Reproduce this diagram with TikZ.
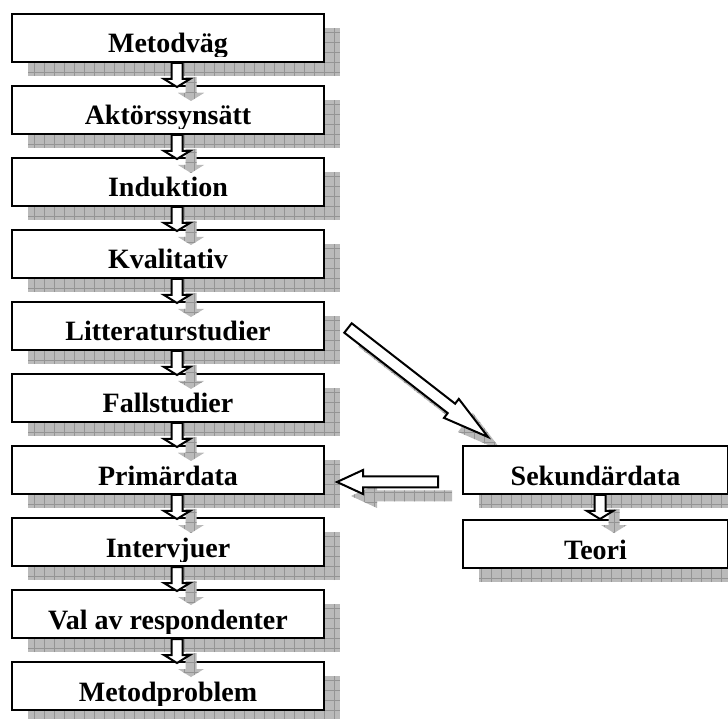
\documentclass[tikz,border=0pt]{standalone}
\usepackage{fontspec}
\setmainfont{Liberation Serif}
\usepackage{tikz}
\usetikzlibrary{positioning}
\usetikzlibrary{shadows}
\usetikzlibrary{backgrounds}

\begin{document}
\begin{tikzpicture}[
  x=0.5pt, y=0.5pt,
  hatch/.style={
      fill=black!27,
      path picture={
          \draw[black!42, line width=0.4pt]
          (path picture bounding box.south west) grid[step=5pt] (path picture bounding box.north east);
      }
  },
  box/.style={
      draw, fill=white, line width=1pt,
      minimum width=156pt, minimum height=24pt, inner sep=0pt,
      general shadow={hatch, shadow xshift=8pt, shadow yshift=-7pt}
  },
  lbl/.style={
      font=\fontsize{14pt}{16pt}\selectfont\bfseries,
      inner sep=0pt, anchor=base
  },
  blockarrow/.style={
      draw, fill=white, line width=1pt, line join=miter,
      general shadow={hatch, shadow xshift=7pt, shadow yshift=-7pt}
  }
]
  \useasboundingbox (0,0) rectangle (728,718);

  % left column
  \foreach \lbl [count=\i from 0] in {Metodväg, Aktörssynsätt, Induktion, Kvalitativ,
      Litteraturstudier, Fallstudier, Primärdata, Intervjuer, Val av respondenter, Metodproblem}
  {
      \node[box] (b\i) at (168, 680-72*\i) {};
      \begin{scope}
          \clip ([yshift=3pt]b\i.south west) rectangle (b\i.north east);
          \node[lbl] (t\i) at ([yshift=5pt]b\i.south) {\lbl};
      \end{scope}
  }

  % diagonal arrow, behind the right boxes
  \begin{scope}[on background layer]
      \coordinate (dtail) at ([shift={(23,-2)}]b4.east);
      \draw[blockarrow] (dtail) ++(-3.7,-4.7) -- ++(103.4,-80.4) -- ++(-3.7,-4.8)
          -- ++(44,-19.1) -- ++(-29.2,38.1) -- ++(-3.7,-4.8) -- ++(-103.4,80.4) -- cycle;
  \end{scope}

  % right column
  \node[box, minimum width=132.5pt, right=68.5pt of b6] (sek) {};
  \node[box, minimum width=132.5pt, below=12pt of sek] (teori) {};
  \begin{scope}
      \clip ([yshift=3pt]sek.south west) rectangle (sek.north east);
      \node[lbl] (tsek) at ([yshift=5pt]sek.south) {Sekundärdata};
  \end{scope}
  \begin{scope}
      \clip ([yshift=3pt]teori.south west) rectangle (teori.north east);
      \node[lbl] (tteori) at ([yshift=5pt]teori.south) {Teori};
  \end{scope}

  % down arrows
  \foreach \i in {0,...,8}
      \draw[blockarrow] ([xshift=4.5pt]b\i.south) ++(-5.5,0) -- ++(11,0) -- ++(0,-16)
          -- ++(7.5,0) -- ++(-13,-8) -- ++(-13,8) -- ++(7.5,0) -- cycle;
  \draw[blockarrow] ([xshift=2.25pt]sek.south) ++(-5.5,0) -- ++(11,0) -- ++(0,-16)
      -- ++(7.5,0) -- ++(-13,-8) -- ++(-13,8) -- ++(7.5,0) -- cycle;

  % left arrow
  \draw[blockarrow] ([shift={(-24,-6.5)}]sek.west) -- ++(-75,0) -- ++(0,6.5)
      -- ++(-26,-12) -- ++(26,-12) -- ++(0,6.5) -- ++(75,0) -- cycle;
\end{tikzpicture}
\end{document}
